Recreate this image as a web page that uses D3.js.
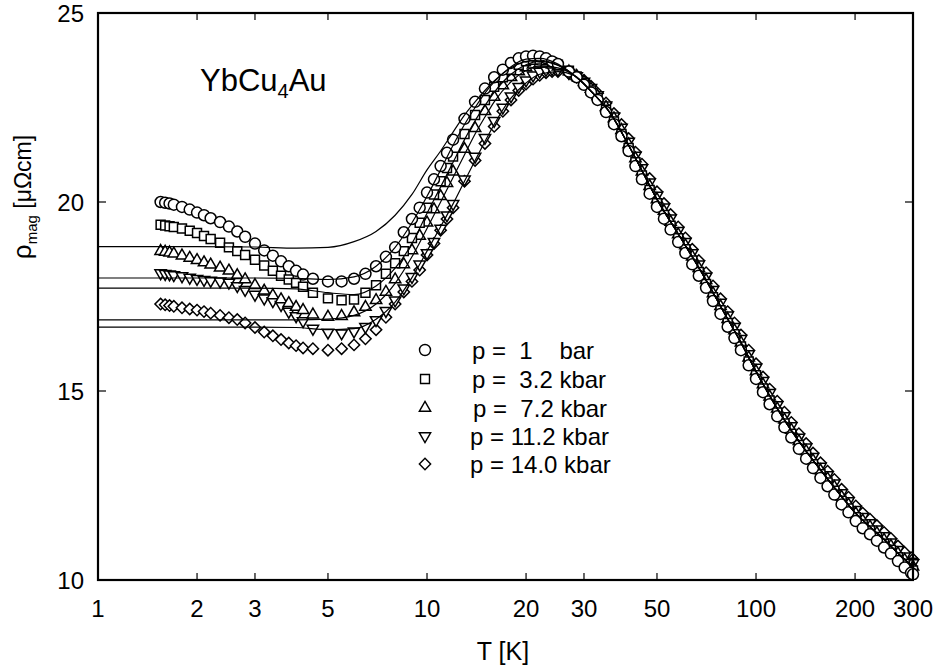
<!DOCTYPE html>
<html>
<head>
<meta charset="utf-8">
<script src="https://cdn.jsdelivr.net/npm/d3@7"></script>
<style>
  body { margin: 0; background: #fff; }
  text { font-family: "Liberation Sans", Arial, Helvetica, sans-serif; fill: #000; }
</style>
</head>
<body>
<div id="chart"></div>
<script>
// temperatures (K): dense low-T run and the main run
const tLow = [1.55, 1.6, 1.65, 1.7, 1.8, 1.9, 2.0, 2.1, 2.2, 2.35, 2.5, 2.65, 2.8, 3.0, 3.2, 3.4, 3.6, 3.8, 4.0, 4.2];
const tHigh = [4.5, 5, 5.5, 6, 6.5, 7, 7.5, 8, 8.5, 9, 9.5, 10, 10.5, 11, 11.5, 12, 13, 14, 15, 16,
  17, 18, 19, 20, 21, 22, 23, 24, 25,
  27, 28.5, 30, 31.5, 33, 35, 37, 39, 41, 43,
  45, 47.5, 50, 52.5, 55, 58, 61, 64, 67, 70.5,
  74, 78, 82, 86, 90, 95, 100, 105, 110, 116,
  122, 128, 135, 142, 149, 157, 165, 173, 182, 191,
  201, 211, 222, 233, 245, 257, 270, 283, 296, 300];

// rho_mag (µΩcm), p = 1 bar
const rhoLow1 = [20.0, 19.98, 19.96, 19.93, 19.87, 19.8, 19.72, 19.65, 19.57, 19.47, 19.35, 19.22, 19.08, 18.9, 18.72, 18.58, 18.43, 18.3, 18.18, 18.08];
const rhoHigh1 = [17.97, 17.9, 17.9, 17.97, 18.1, 18.3, 18.55, 18.8, 19.2, 19.55,
  19.85, 20.25, 20.6, 20.95, 21.3, 21.65, 22.2, 22.65, 23.0, 23.3,
  23.5, 23.68, 23.8, 23.85, 23.87, 23.85, 23.8, 23.72, 23.65,
  23.45, 23.3, 23.1, 22.9, 22.7, 22.38, 22.06, 21.74, 21.35, 20.95,
  20.6, 20.22, 19.87, 19.56, 19.27, 18.94, 18.65, 18.35, 18.05, 17.73,
  17.38, 17.04, 16.7, 16.4, 16.08, 15.68, 15.32, 14.97, 14.65, 14.33,
  14.04, 13.77, 13.47, 13.21, 12.96, 12.7, 12.48, 12.26, 12.0, 11.79,
  11.56, 11.37, 11.21, 11.04, 10.86, 10.7, 10.5, 10.33, 10.19, 10.15];
// p = 3.2 kbar
const rhoLow2 = [19.4, 19.38, 19.36, 19.34, 19.3, 19.24, 19.18, 19.1, 19.02, 18.92, 18.8, 18.7, 18.6, 18.47, 18.32, 18.18, 18.05, 17.95, 17.86, 17.76];
const rhoHigh2 = [17.6, 17.45, 17.4, 17.42, 17.6, 17.8, 18.1, 18.38, 18.7, 19.05,
  19.45, 19.85, 20.2, 20.55, 20.9, 21.2, 21.8, 22.3, 22.7, 23.05,
  23.3, 23.5, 23.63, 23.72, 23.76, 23.77, 23.75, 23.7, 23.63,
  23.47, 23.32, 23.14, 22.95, 22.75, 22.44, 22.13, 21.8, 21.43, 21.05,
  20.7, 20.32, 19.97, 19.66, 19.37, 19.04, 18.75, 18.45, 18.15, 17.83,
  17.48, 17.14, 16.8, 16.5, 16.18, 15.78, 15.42, 15.07, 14.75, 14.43,
  14.14, 13.87, 13.57, 13.31, 13.06, 12.8, 12.58, 12.36, 12.1, 11.89,
  11.66, 11.47, 11.31, 11.14, 10.96, 10.8, 10.6, 10.43, 10.29, 10.25];
// p = 7.2 kbar
const rhoLow3 = [18.7, 18.68, 18.66, 18.63, 18.58, 18.52, 18.46, 18.4, 18.34, 18.26, 18.18, 18.06, 17.95, 17.8, 17.65, 17.53, 17.42, 17.32, 17.22, 17.14];
const rhoHigh3 = [17.02, 16.96, 16.98, 17.08, 17.22, 17.4, 17.62, 17.95, 18.35, 18.72,
  19.1, 19.45, 19.8, 20.15, 20.5, 20.8, 21.4, 21.95, 22.4, 22.78,
  23.08, 23.3, 23.45, 23.56, 23.63, 23.66, 23.66, 23.63, 23.58,
  23.45, 23.33, 23.17, 22.99, 22.8, 22.51, 22.21, 21.9, 21.52, 21.15,
  20.8, 20.42, 20.07, 19.76, 19.47, 19.14, 18.85, 18.55, 18.25, 17.93,
  17.58, 17.24, 16.9, 16.6, 16.28, 15.88, 15.52, 15.17, 14.85, 14.53,
  14.24, 13.97, 13.67, 13.41, 13.16, 12.9, 12.68, 12.46, 12.2, 11.99,
  11.76, 11.57, 11.41, 11.24, 11.06, 10.9, 10.7, 10.53, 10.39, 10.35];
// p = 11.2 kbar
const rhoLow4 = [18.12, 18.1, 18.09, 18.07, 18.04, 18.0, 17.97, 17.94, 17.92, 17.9, 17.87, 17.78, 17.68, 17.55, 17.45, 17.38, 17.28, 17.1, 16.98, 16.85];
const rhoHigh4 = [16.65, 16.55, 16.53, 16.58, 16.7, 16.88, 17.12, 17.4, 17.72, 18.02,
  18.35, 18.65, 18.95, 19.3, 19.65, 19.95, 20.6, 21.2, 21.7, 22.15,
  22.5, 22.8, 23.05, 23.22, 23.35, 23.45, 23.5, 23.52, 23.5,
  23.42, 23.33, 23.19, 23.02, 22.83, 22.56, 22.27, 21.97, 21.6, 21.23,
  20.9, 20.52, 20.17, 19.86, 19.57, 19.24, 18.95, 18.65, 18.35, 18.03,
  17.68, 17.34, 17.0, 16.7, 16.38, 15.98, 15.62, 15.27, 14.95, 14.63,
  14.34, 14.07, 13.77, 13.51, 13.26, 13.0, 12.78, 12.56, 12.3, 12.09,
  11.86, 11.67, 11.51, 11.34, 11.16, 11.0, 10.8, 10.63, 10.49, 10.45];
// p = 14.0 kbar
const rhoLow5 = [17.3, 17.28, 17.26, 17.24, 17.2, 17.17, 17.14, 17.1, 17.06, 17.0, 16.94, 16.89, 16.8, 16.68, 16.56, 16.46, 16.36, 16.27, 16.2, 16.14];
const rhoHigh5 = [16.12, 16.08, 16.12, 16.22, 16.38, 16.62, 16.95, 17.3, 17.62, 17.9,
  18.2, 18.6, 18.9, 19.25, 19.55, 19.85, 20.55, 21.1, 21.55, 22.0,
  22.4, 22.7, 22.95, 23.12, 23.25, 23.35, 23.42, 23.45, 23.45,
  23.4, 23.34, 23.22, 23.06, 22.88, 22.62, 22.34, 22.05, 21.68, 21.32,
  21.0, 20.62, 20.27, 19.96, 19.67, 19.34, 19.05, 18.75, 18.45, 18.13,
  17.78, 17.44, 17.1, 16.8, 16.48, 16.08, 15.72, 15.37, 15.05, 14.73,
  14.44, 14.17, 13.87, 13.61, 13.36, 13.1, 12.88, 12.66, 12.4, 12.19,
  11.96, 11.77, 11.61, 11.44, 11.26, 11.1, 10.9, 10.73, 10.59, 10.55];

// fitted curves (solid lines)
const fitHeadT = [1, 2, 3, 4, 5, 6, 7, 8, 9, 10, 11, 12, 13, 14, 15, 16, 18, 20, 22, 25];
const fitTailT = [28, 32, 36, 42, 50, 60, 70, 80, 90, 100, 120, 140, 160, 180, 200, 225, 250, 275, 300];
const fitTailRho = [23.35, 22.87, 22.36, 21.33, 20.07, 18.95, 17.98, 17.07, 16.28, 15.52, 14.33, 13.48, 12.82, 12.26, 11.78, 11.36, 11.0, 10.64, 10.35];
const fit1 = [18.82, 18.82, 18.81, 18.78, 18.8, 18.95, 19.22, 19.65, 20.2, 20.85, 21.35, 21.85, 22.3, 22.65, 22.95, 23.2, 23.55, 23.72, 23.75, 23.62];
const fit2 = [17.99, 17.99, 17.99, 17.98, 17.95, 18.02, 18.3, 18.8, 19.45, 20.15, 20.85, 21.5, 22.05, 22.5, 22.88, 23.18, 23.58, 23.78, 23.8, 23.65];
const fit3 = [17.72, 17.72, 17.72, 17.7, 17.6, 17.55, 17.78, 18.25, 18.9, 19.7, 20.4, 21.05, 21.65, 22.15, 22.55, 22.9, 23.38, 23.63, 23.72, 23.62];
const fit4 = [16.88, 16.88, 16.88, 16.88, 16.9, 17.0, 17.3, 17.85, 18.55, 19.3, 20.0, 20.65, 21.25, 21.8, 22.25, 22.65, 23.18, 23.48, 23.6, 23.55];
const fit5 = [16.69, 16.69, 16.69, 16.68, 16.62, 16.65, 16.9, 17.35, 18.0, 18.7, 19.35, 19.95, 20.55, 21.1, 21.6, 22.05, 22.75, 23.15, 23.38, 23.45];

const legendLabels = ["p =  1    bar", "p =  3.2 kbar", "p =  7.2 kbar", "p = 11.2 kbar", "p = 14.0 kbar"];
const xTickValues = [1, 2, 3, 5, 10, 20, 30, 50, 100, 200, 300];
const yTickValues = [10, 15, 20, 25];

const width = 935, height = 668;
const plot = {left: 98, right: 913, top: 13, bottom: 580};

const svg = d3.select("#chart").append("svg")
  .attr("width", width)
  .attr("height", height);

const x = d3.scaleLog().domain([1, 300]).range([plot.left, plot.right]);
const y = d3.scaleLinear().domain([10, 25]).range([plot.bottom, plot.top]);

// marker shapes
const symCircle = d3.symbol().type(d3.symbolCircle).size(95)();
const symSquare = d3.symbol().type(d3.symbolSquare).size(80)();
const symTriangle = d3.symbol().type(d3.symbolTriangle).size(56)();
const symDiamond = d3.symbol().type(d3.symbolSquare).size(64)();
const markers = [
  {path: symCircle, rot: 0},
  {path: symSquare, rot: 0},
  {path: symTriangle, rot: 0},
  {path: symTriangle, rot: 180},
  {path: symDiamond, rot: 45}
];

const seriesData = [
  [rhoLow1, rhoHigh1], [rhoLow2, rhoHigh2], [rhoLow3, rhoHigh3], [rhoLow4, rhoHigh4], [rhoLow5, rhoHigh5]
].map(function(s) {
  return tLow.map((t, i) => [t, s[0][i]]).concat(tHigh.map((t, i) => [t, s[1][i]]));
});

const fits = [fit1, fit2, fit3, fit4, fit5].map(function(f) {
  return fitHeadT.map((t, i) => [t, f[i]]).concat(fitTailT.map((t, i) => [t, fitTailRho[i]]));
});

svg.append("clipPath").attr("id", "plotclip")
  .append("rect")
  .attr("x", plot.left).attr("y", plot.top - 6)
  .attr("width", plot.right - plot.left + 8).attr("height", plot.bottom - plot.top + 6);

const layer = svg.append("g").attr("clip-path", "url(#plotclip)");

// markers, highest pressure first so that 1 bar sits on top
for (let s = seriesData.length - 1; s >= 0; s--) {
  layer.append("g")
    .selectAll("path")
    .data(seriesData[s])
    .enter().append("path")
    .attr("d", markers[s].path)
    .attr("transform", d => `translate(${x(d[0])},${y(d[1])}) rotate(${markers[s].rot})`)
    .style("fill", "#fff")
    .style("stroke", "#000")
    .style("stroke-width", 1.5);
}

// fit lines
const line = d3.line()
  .x(d => x(d[0]))
  .y(d => y(d[1]))
  .curve(d3.curveMonotoneX);

layer.selectAll(".fit")
  .data(fits)
  .enter().append("path")
  .attr("class", "fit")
  .attr("d", line)
  .style("fill", "none")
  .style("stroke", "#000")
  .style("stroke-width", 1.2);

// frame
svg.append("rect")
  .attr("x", plot.left).attr("y", plot.top)
  .attr("width", plot.right - plot.left).attr("height", plot.bottom - plot.top)
  .style("fill", "none")
  .style("stroke", "#000")
  .style("stroke-width", 2.2);

// inward ticks
const xInner = xTickValues.filter(v => v > 1 && v < 300);
const tickLen = 7;
svg.append("g").selectAll("line")
  .data(xInner)
  .enter().append("line")
  .attr("x1", d => x(d)).attr("x2", d => x(d))
  .attr("y1", plot.bottom).attr("y2", plot.bottom - tickLen)
  .style("stroke", "#000").style("stroke-width", 1.2);
svg.append("g").selectAll("line")
  .data(xInner)
  .enter().append("line")
  .attr("x1", d => x(d)).attr("x2", d => x(d))
  .attr("y1", plot.top).attr("y2", plot.top + tickLen)
  .style("stroke", "#000").style("stroke-width", 1.2);
const yInner = yTickValues.filter(v => v > 10 && v < 25);
svg.append("g").selectAll("line")
  .data(yInner)
  .enter().append("line")
  .attr("x1", plot.left).attr("x2", plot.left + tickLen + 1)
  .attr("y1", d => y(d)).attr("y2", d => y(d))
  .style("stroke", "#000").style("stroke-width", 1.2);
svg.append("g").selectAll("line")
  .data(yInner)
  .enter().append("line")
  .attr("x1", plot.right).attr("x2", plot.right - tickLen - 1)
  .attr("y1", d => y(d)).attr("y2", d => y(d))
  .style("stroke", "#000").style("stroke-width", 1.2);

// tick labels
svg.append("g").selectAll("text")
  .data(xTickValues)
  .enter().append("text")
  .attr("x", d => x(d))
  .attr("y", 617)
  .attr("text-anchor", "middle")
  .style("font-size", "24px")
  .text(d => d);
svg.append("g").selectAll("text")
  .data(yTickValues)
  .enter().append("text")
  .attr("x", 84)
  .attr("y", d => y(d) + 9)
  .attr("text-anchor", "end")
  .style("font-size", "24px")
  .text(d => d);

// axis titles
svg.append("text")
  .attr("x", 503).attr("y", 660)
  .attr("text-anchor", "middle")
  .style("font-size", "25px")
  .text("T [K]");

const yTitle = svg.append("text")
  .attr("transform", "translate(31,197) rotate(-90)")
  .attr("text-anchor", "middle")
  .style("font-size", "23px");
yTitle.append("tspan").style("font-size", "26px").text("ρ");
yTitle.append("tspan").attr("dy", 6).style("font-size", "15px").text("mag");
yTitle.append("tspan").attr("dy", -6).text(" [μΩcm]");

// compound label
const title = svg.append("text")
  .attr("x", 200).attr("y", 91)
  .style("font-size", "31px");
title.append("tspan").text("YbCu");
title.append("tspan").attr("dy", 7).style("font-size", "20px").text("4");
title.append("tspan").attr("dy", -7).text("Au");

// legend
const legendY = [350, 379, 408, 436, 464];
const legendTextX = [472, 472, 473, 470, 470];
const legend = svg.append("g");
legend.selectAll("path")
  .data(markers)
  .enter().append("path")
  .attr("d", d => d.path)
  .attr("transform", (d, i) => `translate(425,${legendY[i]}) rotate(${d.rot})`)
  .style("fill", "#fff")
  .style("stroke", "#000")
  .style("stroke-width", 1.4);
legend.selectAll("text")
  .data(legendLabels)
  .enter().append("text")
  .attr("x", (d, i) => legendTextX[i])
  .attr("y", (d, i) => legendY[i] + 9)
  .style("font-size", "24px")
  .style("white-space", "pre")
  .text(d => d);
</script>
</body>
</html>
